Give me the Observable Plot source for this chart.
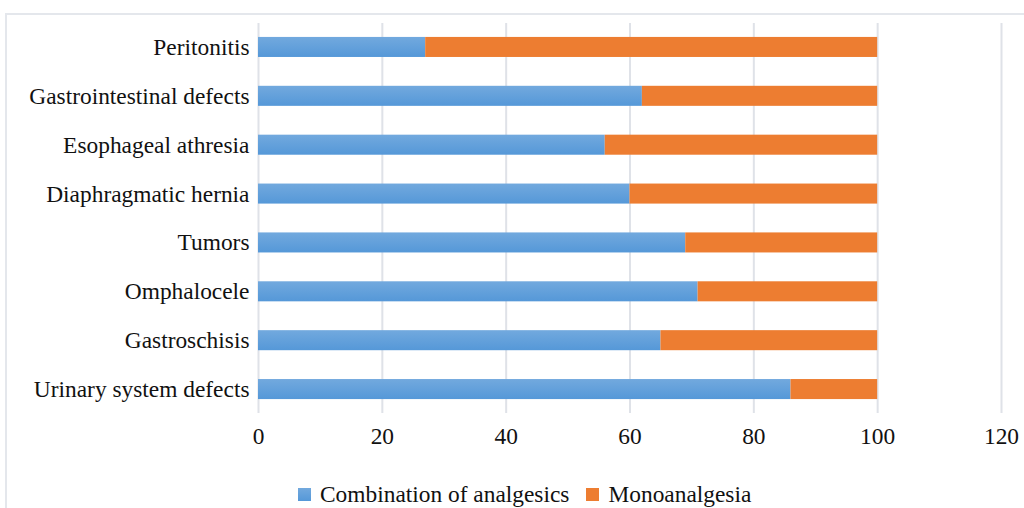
<!DOCTYPE html>
<html>
<head>
<meta charset="utf-8">
<script src="https://cdn.jsdelivr.net/npm/d3@7"></script>
<script src="https://cdn.jsdelivr.net/npm/@observablehq/plot@0.6"></script>
<style>
  html, body { margin: 0; padding: 0; background: #fff; }
  #wrap { position: relative; width: 1024px; height: 508px; overflow: hidden; font-family: "Liberation Serif", "Times New Roman", serif; }
  #frame { position: absolute; left: 5px; top: 13px; width: 1040px; height: 520px; border: 2px solid #e4e7ec; box-sizing: border-box; }
  #chart { position: absolute; left: 0; top: 0; }
  #legend { position: absolute; top: 480px; left: 298px; display: flex; align-items: center; font-size: 23.4px; line-height: 28px; color: #111; }
  .key { display: flex; align-items: center; margin-right: 17px; }
  .sw { width: 13px; height: 13px; margin-right: 9px; }
</style>
</head>
<body>
<div id="wrap">
  <div id="frame"></div>
  <div id="chart"></div>
  <div id="legend"></div>
</div>
<script>
// Surgical conditions, top to bottom
const categories = [
  "Peritonitis",
  "Gastrointestinal defects",
  "Esophageal athresia",
  "Diaphragmatic hernia",
  "Tumors",
  "Omphalocele",
  "Gastroschisis",
  "Urinary system defects"
];
// Share of patients (%) per analgesia method
const combination = [27, 62, 56, 60, 69, 71, 65, 86];
const monoanalgesia = [73, 38, 44, 40, 31, 29, 35, 14];
const methods = ["Combination of analgesics", "Monoanalgesia"];
const xTicks = [0, 20, 40, 60, 80, 100, 120];

const rows = [];
categories.forEach((c, i) => {
  rows.push({category: c, method: methods[0], value: combination[i]});
  rows.push({category: c, method: methods[1], value: monoanalgesia[i]});
});

const blueTop = "#72a9de", blueBottom = "#5598d8", orange = "#ed7d31";

const svg = Plot.plot({
  width: 1024,
  height: 470,
  marginLeft: 258,
  marginRight: 23,
  marginTop: 23,
  marginBottom: 57,
  style: {fontFamily: "Liberation Serif, Times New Roman, serif", fontSize: "23.4px", color: "#111", background: "transparent"},
  x: {domain: [0, 120], ticks: xTicks, tickSize: 0, tickPadding: 14, label: null},
  y: {domain: categories, paddingInner: 0.59, paddingOuter: 0.285, round: false, tickSize: 0, tickPadding: 9, label: null},
  color: {domain: methods, range: ["url(#blueGrad)", orange]},
  marks: [
    Plot.ruleX(xTicks, {stroke: "#dfe2e8", strokeWidth: 2}),
    Plot.barX(rows, Plot.stackX({y: "category", x: "value", fill: "method", order: null}))
  ]
});

// vertical gradient used for the blue series
const defs = d3.select(svg).insert("defs", ":first-child");
const grad = defs.append("linearGradient").attr("id", "blueGrad")
  .attr("x1", 0).attr("y1", 0).attr("x2", 0).attr("y2", 1);
grad.append("stop").attr("offset", "0%").attr("stop-color", blueTop);
grad.append("stop").attr("offset", "100%").attr("stop-color", blueBottom);

document.getElementById("chart").appendChild(svg);

const legend = document.getElementById("legend");
[[methods[0], `linear-gradient(${blueTop}, ${blueBottom})`], [methods[1], orange]].forEach(([label, bg]) => {
  const k = document.createElement("div");
  k.className = "key";
  const s = document.createElement("span");
  s.className = "sw";
  s.style.background = bg;
  const t = document.createElement("span");
  t.textContent = label;
  k.appendChild(s); k.appendChild(t);
  legend.appendChild(k);
});
</script>
</body>
</html>
